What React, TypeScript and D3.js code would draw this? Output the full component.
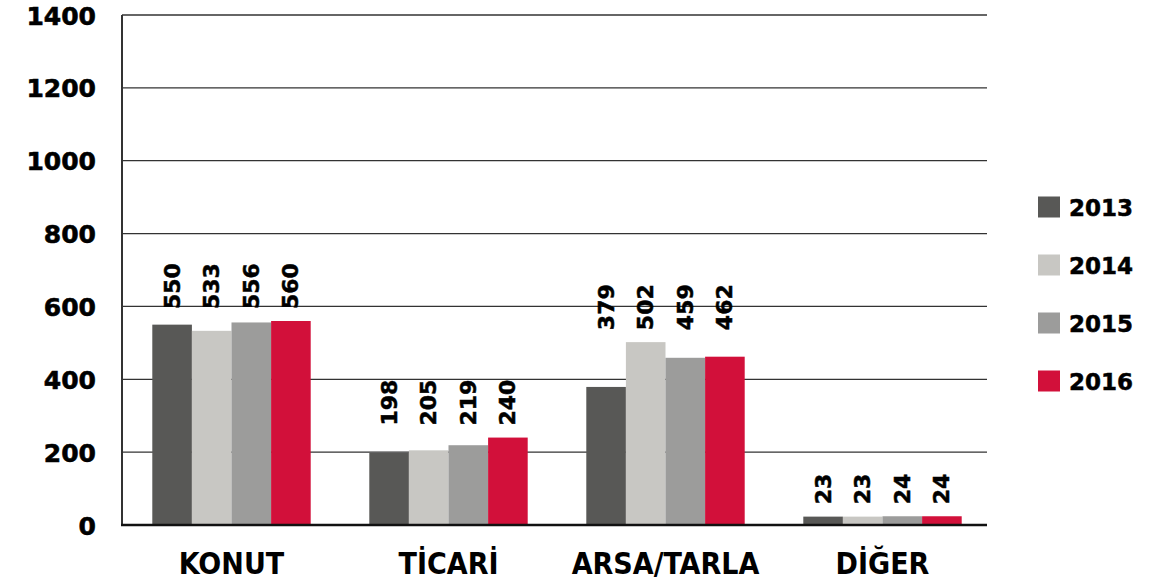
import React from "react";
import * as d3 from "d3";

const categories = ["KONUT", "TİCARİ", "ARSA/TARLA", "DİĞER"];
const years = ["2013", "2014", "2015", "2016"];
const values2013 = [550, 198, 379, 23];
const values2014 = [533, 205, 502, 23];
const values2015 = [556, 219, 459, 24];
const values2016 = [560, 240, 462, 24];
const yTicks = [0, 200, 400, 600, 800, 1000, 1200, 1400];
const colors = ["#585856", "#c8c7c3", "#9c9c9b", "#d2103a"];

const W = 1152;
const H = 587;

const App = () => {
  const ref = React.useRef<SVGSVGElement>(null);

  React.useEffect(() => {
    const svg = d3.select(ref.current);
    svg.selectAll("*").remove();

    const series = [values2013, values2014, values2015, values2016];
    const numFont = '"DejaVu Sans", sans-serif';

    const x0 = d3.scaleBand().domain(categories).range([123, 991])
      .paddingInner(0.27).paddingOuter(0.135);
    const x1 = d3.scaleBand().domain(years).range([0, x0.bandwidth()]);
    const y = d3.scaleLinear().domain([0, 1400]).range([525, 15]);

    // grid
    svg.append("g").selectAll("line").data(yTicks.filter(d => d > 0)).join("line")
      .attr("x1", 122).attr("x2", 987)
      .attr("y1", d => y(d)).attr("y2", d => y(d))
      .attr("stroke", "#333").attr("stroke-width", 1.3);

    // y tick labels
    svg.append("g").selectAll("text").data(yTicks).join("text")
      .attr("x", 96).attr("y", d => y(d) + 1)
      .attr("text-anchor", "end").attr("dominant-baseline", "central")
      .attr("font-family", numFont).attr("font-weight", "bold")
      .attr("font-size", 25).attr("fill", "#000")
      .attr("stroke", "#000").attr("stroke-width", 0.6)
      .text(d => d);

    // bars
    const groups = svg.append("g").selectAll("g").data(categories).join("g")
      .attr("transform", d => `translate(${x0(d)},0)`);

    groups.selectAll("rect").data((_, i) => years.map((yr, j) => ({ yr, v: series[j][i], c: colors[j] })))
      .join("rect")
      .attr("x", d => x1(d.yr)!)
      .attr("width", x1.bandwidth())
      .attr("y", d => y(d.v))
      .attr("height", d => y(0) - y(d.v))
      .attr("fill", d => d.c);

    // value labels, aligned per group above the tallest bar
    groups.each(function (_, i) {
      const vals = series.map(s => s[i]);
      const top = y(d3.max(vals)!) - 12;
      d3.select(this).selectAll("text").data(years.map((yr, j) => ({ yr, v: vals[j] })))
        .join("text")
        .attr("transform", d => `translate(${x1(d.yr)! + x1.bandwidth() / 2},${top}) rotate(-90)`)
        .attr("dominant-baseline", "central")
        .attr("font-family", numFont).attr("font-weight", "bold")
        .attr("font-size", 22).attr("fill", "#000")
        .attr("stroke", "#000").attr("stroke-width", 0.5)
        .text(d => d.v);
    });

    // axes lines
    svg.append("line").attr("x1", 122).attr("x2", 122).attr("y1", 15).attr("y2", 526)
      .attr("stroke", "#333").attr("stroke-width", 2);
    svg.append("line").attr("x1", 121).attr("x2", 987).attr("y1", y(0)).attr("y2", y(0))
      .attr("stroke", "#111").attr("stroke-width", 2.5);

    // category labels
    svg.append("g").selectAll("text").data(categories).join("text")
      .attr("x", d => x0(d)! + x0.bandwidth() / 2).attr("y", 574)
      .attr("text-anchor", "middle")
      .attr("font-family", '"Liberation Sans Narrow", "DejaVu Sans Condensed", sans-serif')
      .attr("font-weight", "bold").attr("font-size", 30).attr("fill", "#000")
      .text(d => d);

    // legend
    const leg = svg.append("g").selectAll("g").data(years).join("g")
      .attr("transform", (_, i) => `translate(1038,${207 + i * 58})`);
    leg.append("rect").attr("x", 0).attr("y", -10.5).attr("width", 22).attr("height", 21)
      .attr("fill", (_, i) => colors[i]);
    leg.append("text").attr("x", 31).attr("y", 1).attr("dominant-baseline", "central")
      .attr("font-family", numFont).attr("font-weight", "bold")
      .attr("font-size", 23).attr("fill", "#000")
      .attr("stroke", "#000").attr("stroke-width", 0.5)
      .text(d => d);
  }, []);

  return (
    <svg ref={ref} width={W} height={H}
      style={{ position: "absolute", left: 0, top: 0, background: "#fff" }} />
  );
};

export default App;
